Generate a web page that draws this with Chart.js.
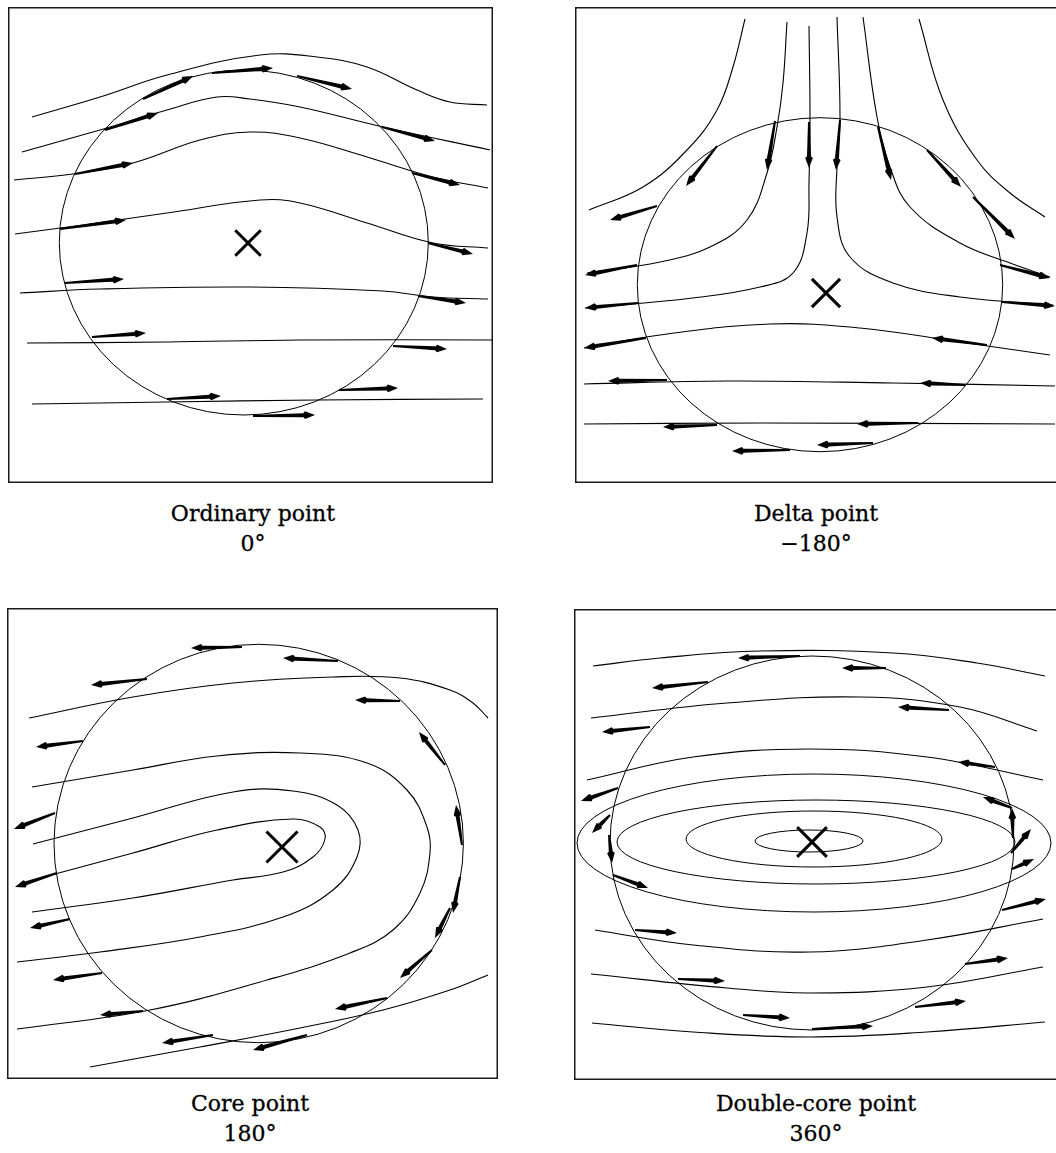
<!DOCTYPE html>
<html>
<head>
<meta charset="utf-8">
<script src="https://cdn.jsdelivr.net/npm/chart.js@4/dist/chart.umd.min.js"></script>
<style>
  html, body { margin: 0; padding: 0; background: #fff; }
  body { width: 1056px; height: 1153px; position: relative; overflow: hidden; }
  canvas { position: absolute; }
  .cap { position: absolute; width: 320px; text-align: center; font-family: "DejaVu Serif", serif;
         font-size: 22px; line-height: 30px; color: #000; -webkit-text-stroke: 0.3px #000; }
</style>
</head>
<body>
<canvas id="ordinary"></canvas>
<canvas id="delta"></canvas>
<canvas id="core"></canvas>
<canvas id="doubleCore"></canvas>
<div class="cap" id="capOrdinary"></div>
<div class="cap" id="capDelta"></div>
<div class="cap" id="capCore"></div>
<div class="cap" id="capDoubleCore"></div>
<script>
// ---------- Ordinary point (0°) ----------
const ordinaryLines = [
  [[32,117],[100,97],[167,75],[260,55],[317,57],[367,67],[417,90],[450,102],[487,105]],
  [[22,152],[100,130],[167,110],[217,97],[250,99],[300,107],[383,127],[490,150]],
  [[14,180],[73,174],[133,163],[200,140],[250,132],[300,138],[367,157],[433,177],[488,188]],
  [[15,234],[83,225],[167,213],[260,200],[300,203],[367,223],[433,243],[488,248]],
  [[20,293],[100,289],[250,287],[383,291],[433,297],[488,299]],
  [[27,343],[167,342],[300,340],[492,340]],
  [[32,404],[167,402],[317,400],[483,399]]
];
const ordinaryArrows = [
  [143,99,193,76],[212,73,273,68],[297,76,352,89],[105,130,158,113],[382,127,435,141],
  [75,174,133,163],[412,173,460,185],[60,229,126,220],[428,243,473,254],[65,283,124,279],
  [418,296,466,303],[92,337,146,333],[393,346,447,349],[167,399,221,396],[339,390,398,388],
  [253,416,315,415]
];
const ordinaryRings = [[243.8,242.5,184.5,172.5]];
const ordinaryCore = [248,243];

// ---------- Delta point (−180°) ----------
const deltaLines = [
  [[745,19],[733,67],[717,110],[687,150],[643,187],[589,210]],
  [[787,22],[783,83],[777,127],[767,173],[747,220],[710,247],[660,262],[587,273]],
  [[809,26],[810,117],[809,183],[807,233],[793,273],[760,287],[693,298],[585,308]],
  [[837,17],[840,117],[837,167],[837,217],[850,257],[893,283],[960,297],[1053,305]],
  [[863,17],[877,117],[890,167],[910,207],[960,243],[1010,263],[1050,277]],
  [[919,19],[943,100],[977,160],[1010,193],[1045,217]],
  [[584,348],[660,335],[770,324],[860,328],[960,342],[1050,355]],
  [[584,384],[727,381],[893,383],[1055,386]],
  [[584,424],[760,423],[1055,424]]
];
const deltaArrows = [
  [717,146,686,186],[657,206,610,220],[775,121,767,170],[809,122,809,168],[840,120,836,170],
  [878,127,891,180],[927,150,961,187],[973,197,1015,239],[637,265,585,275],[1000,265,1050,278],
  [638,303,585,308],[1002,302,1055,306],[646,338,584,348],[987,345,932,338],[667,380,608,381],
  [965,385,920,383],[717,425,663,427],[918,423,857,424],[873,443,817,445],[790,450,732,451]
];
const deltaRings = [[820,284.7,182.7,167]];
const deltaCore = [826,293];

// ---------- Core point (180°) ----------
const coreLines = [
  [[29,718],[133,697],[233,683],[333,677],[400,678],[450,690],[473,703],[488,718]],
  [[32,787],[133,770],[217,756],[300,753],[367,763],[407,790],[427,827],[430,853],[420,893],[393,930],[350,953],[267,980],[150,1010],[17,1029]],
  [[33,844],[133,818],[233,792],[293,791],[337,805],[358,830],[357,857],[333,890],[283,917],[200,937],[100,952],[17,962]],
  [[55,874],[133,853],[217,830],[293,819],[320,827],[325,839],[313,857],[283,872],[233,880],[133,898],[32,912]],
  [[90,1067],[200,1047],[300,1028],[383,1010],[450,990],[488,975]]
];
const coreArrows = [
  [242,647,191,648],[338,661,283,658],[147,679,91,685],[400,701,355,700],[83,741,36,747],
  [445,765,419,732],[55,813,14,829],[462,845,456,805],[57,873,15,887],[460,877,453,913],
  [450,908,435,938],[432,950,400,978],[70,919,30,928],[102,973,53,980],[143,1011,100,1015],
  [387,998,335,1009],[213,1035,162,1043],[307,1035,253,1050]
];
const coreRings = [[258.7,843.5,204.7,199.2]];
const coreCore = [282,847];

// ---------- Double-core point (360°) ----------
const doubleCoreLines = [
  [[593,666],[660,658],[760,651],[893,653],[977,663],[1045,676]],
  [[591,718],[727,703],[860,697],[960,707],[1037,731]],
  [[587,780],[693,757],[810,749],[927,757],[1043,780]],
  [[595,930],[693,945],[810,952],[927,940],[1043,919]],
  [[591,974],[727,988],[810,993],[927,987],[1043,967]],
  [[592,1023],[693,1032],[810,1037],[927,1032],[1045,1022]]
];
const doubleCoreArrows = [
  [800,656,738,658],[886,668,842,668],[708,682,652,688],[949,710,898,707],[650,727,602,732],
  [995,767,958,762],[618,788,581,801],[1012,808,983,797],[610,815,592,833],[609,835,612,863],
  [613,875,648,888],[1013,838,1012,808],[1011,853,1031,829],[1012,869,1034,859],[1002,910,1046,899],
  [635,930,677,933],[965,964,1008,958],[678,979,725,981],[915,1007,966,1001],[743,1015,790,1018],
  [812,1029,873,1026]
];
const doubleCoreRings = [
  [812,843,202,187],
  [809,841,54,11],[814,839,128,28],[816,842,199,42],[814,843,237,69]
];
const doubleCoreCore = [812,842];

// Panel captions
const captions = {
  ordinary: ['Ordinary point', '0°'],
  delta: ['Delta point', '−180°'],
  core: ['Core point', '180°'],
  doubleCore: ['Double-core point', '360°']
};

// Frame of each panel on the page: [left, top, right, bottom]
const frames = {
  ordinary: [8, 7, 493, 483],
  delta: [575, 7, 1056, 483],
  core: [7, 608, 498, 1079],
  doubleCore: [574, 609, 1056, 1080]
};

// Draws circles/ellipses, orientation arrows and the panel frame
const fieldMarks = {
  id: 'fieldMarks',
  afterDatasetsDraw(chart, args, opts) {
    const ctx = chart.ctx, sx = chart.scales.x, sy = chart.scales.y;
    ctx.save();
    ctx.strokeStyle = '#000';
    ctx.lineWidth = 1;
    for (const [cx, cy, rx, ry] of opts.rings) {
      const px = sx.getPixelForValue(cx), py = sy.getPixelForValue(cy);
      const prx = Math.abs(sx.getPixelForValue(cx + rx) - px);
      const pry = Math.abs(sy.getPixelForValue(cy + ry) - py);
      ctx.beginPath();
      ctx.ellipse(px, py, prx, pry, 0, 0, Math.PI * 2);
      ctx.stroke();
    }
    ctx.fillStyle = '#000';
    for (const [x1, y1, x2, y2] of opts.arrows) {
      const ax = sx.getPixelForValue(x1), ay = sy.getPixelForValue(y1);
      const bx = sx.getPixelForValue(x2), by = sy.getPixelForValue(y2);
      const ang = Math.atan2(by - ay, bx - ax);
      const c = Math.cos(ang), s = Math.sin(ang);
      const headLen = 12, headHalf = 3.8, tailHalf = 1.0, neckHalf = 2.0;
      const nx = bx - headLen * c, ny = by - headLen * s;
      // tapering shaft
      ctx.beginPath();
      ctx.moveTo(ax - tailHalf * s, ay + tailHalf * c);
      ctx.lineTo(nx - neckHalf * s, ny + neckHalf * c);
      ctx.lineTo(nx + neckHalf * s, ny - neckHalf * c);
      ctx.lineTo(ax + tailHalf * s, ay - tailHalf * c);
      ctx.closePath();
      ctx.fill();
      // head
      ctx.beginPath();
      ctx.moveTo(bx, by);
      ctx.lineTo(nx - headHalf * s + 2 * c, ny + headHalf * c + 2 * s);
      ctx.lineTo(nx - 1.5 * c, ny - 1.5 * s);
      ctx.lineTo(nx + headHalf * s + 2 * c, ny - headHalf * c + 2 * s);
      ctx.closePath();
      ctx.fill();
    }
    ctx.restore();
  },
  afterDraw(chart, args, opts) {
    const ctx = chart.ctx, w = chart.width, h = chart.height;
    ctx.save();
    ctx.strokeStyle = '#1a1a1a';
    ctx.lineWidth = 1.5;
    ctx.beginPath();
    if (opts.openRight) {
      ctx.moveTo(w, 0.75); ctx.lineTo(0.75, 0.75); ctx.lineTo(0.75, h - 0.75); ctx.lineTo(w, h - 0.75);
    } else {
      ctx.rect(0.75, 0.75, w - 1.5, h - 1.5);
    }
    ctx.stroke();
    ctx.restore();
  }
};

function toPoints(arr) { return arr.map(([x, y]) => ({ x, y })); }

function buildPanel(key, lines, arrows, rings, core, markerRadius, openRight) {
  const [l, t, r, b] = frames[key];
  const canvas = document.getElementById(key);
  canvas.width = r - l; canvas.height = b - t;
  canvas.style.left = l + 'px'; canvas.style.top = t + 'px';
  canvas.style.width = (r - l) + 'px'; canvas.style.height = (b - t) + 'px';

  const datasets = lines.map(line => ({
    data: toPoints(line),
    showLine: true,
    borderColor: '#000',
    borderWidth: 1.1,
    pointRadius: 0,
    tension: 0.4,
    fill: false
  }));
  datasets.push({
    data: [{ x: core[0], y: core[1] }],
    pointStyle: 'crossRot',
    pointRadius: markerRadius,
    borderColor: '#000',
    borderWidth: 3,
    backgroundColor: '#000'
  });

  new Chart(canvas, {
    type: 'scatter',
    data: { datasets },
    options: {
      responsive: false,
      animation: false,
      events: [],
      layout: { padding: 0, autoPadding: false },
      scales: {
        x: { type: 'linear', min: l, max: r, display: false },
        y: { type: 'linear', min: t, max: b, reverse: true, display: false }
      },
      plugins: {
        legend: { display: false },
        tooltip: { enabled: false },
        fieldMarks: { rings, arrows, openRight }
      }
    },
    plugins: [fieldMarks]
  });

  const cap = document.getElementById('cap' + key[0].toUpperCase() + key.slice(1));
  cap.innerHTML = captions[key].join('<br>');
}

buildPanel('ordinary', ordinaryLines, ordinaryArrows, ordinaryRings, ordinaryCore, 18, false);
buildPanel('delta', deltaLines, deltaArrows, deltaRings, deltaCore, 20, true);
buildPanel('core', coreLines, coreArrows, coreRings, coreCore, 22, false);
buildPanel('doubleCore', doubleCoreLines, doubleCoreArrows, doubleCoreRings, doubleCoreCore, 21, true);

// caption placement (centre x, top y)
const capPos = { Ordinary: [253, 499], Delta: [816, 499], Core: [250, 1089], DoubleCore: [816, 1089] };
for (const [k, [cx, top]] of Object.entries(capPos)) {
  const el = document.getElementById('cap' + k);
  el.style.left = (cx - 160) + 'px';
  el.style.top = top + 'px';
}
</script>
</body>
</html>
